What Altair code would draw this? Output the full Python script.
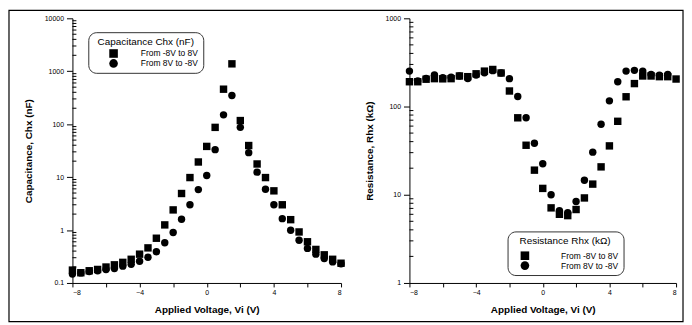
import altair as alt
import pandas as pd

FONT = "Liberation Sans"

voltage = [-8, -7.5, -7, -6.5, -6, -5.5, -5, -4.5, -4, -3.5, -3, -2.5, -2, -1.5, -1, -0.5,
           0, 0.5, 1, 1.5, 2, 2.5, 3, 3.5, 4, 4.5, 5, 5.5, 6, 6.5, 7, 7.5, 8]

series = ["From -8V to 8V", "From 8V to -8V"]

cap_up = [0.175, 0.156, 0.17, 0.18, 0.20, 0.22, 0.245, 0.28, 0.35, 0.46, 0.70, 1.25, 2.4, 4.9, 9.8, 19.3,
          38, 87, 458, 1380, 117, 39.5, 17.7, 9.8, 5.5, 3.0, 1.57, 0.92, 0.60, 0.43, 0.34, 0.28, 0.236]
cap_down = [0.147, 0.155, 0.165, 0.17, 0.18, 0.188, 0.208, 0.226, 0.258, 0.306, 0.39, 0.575, 0.9, 1.6, 3.0, 5.8,
            10.7, 33, 150, 349, 87, 29, 12.4, 5.9, 3.0, 1.64, 0.99, 0.64, 0.45, 0.35, 0.29, 0.25, 0.23]

res_up = [191, 191, 204, 207, 206, 207, 222, 218, 235, 252, 263, 240, 150, 74.5, 36.4, 19,
          11.8, 7.1, 6.0, 5.8, 6.8, 9.2, 13.2, 20.7, 35.8, 68, 129, 182, 222, 222, 218, 218, 205]
res_down = [252, 195, 208, 228, 212, 215, 222, 208, 228, 242, 255, 240, 207, 130, 74.5, 38.4,
            22.5, 10, 6.6, 6.25, 8.4, 14.6, 30.4, 63, 116, 191, 252, 257, 252, 231, 226, 231, None]

x_ticks = [-8, -6, -4, -2, 0, 2, 4, 6, 8]
cap_major = [0.1, 1, 10, 100, 1000, 10000]
res_major = [1, 10, 100, 1000]
mult = [2, 3, 4, 5, 6, 7, 8, 9]


def long_df(up, down):
    rows = []
    for v, a in zip(voltage, up):
        if a is not None:
            rows.append({"V": v, "val": a, "series": series[0]})
    for v, b in zip(voltage, down):
        if b is not None:
            rows.append({"V": v, "val": b, "series": series[1]})
    return pd.DataFrame(rows)


def minor_df(majors):
    vals = [m * k for m in majors[:-1] for k in mult]
    return pd.DataFrame({"val": vals})


def panel(df, majors, ytitle, legend_title, lx, ly, sym_off, lab_off, title_pad, w, h, frame=False):
    domain = [majors[0], majors[-1]]
    yscale = alt.Scale(type="log", domain=domain, nice=False)
    yaxis = alt.Axis(values=majors, format="~g", title=ytitle, grid=False, tickSize=6,
                     labelPadding=3, titlePadding=11)
    pts = alt.Chart(df).mark_point(filled=True, opacity=1, color="black", size=56, strokeWidth=0).encode(
        x=alt.X("V:Q", scale=alt.Scale(domain=[-8, 8], nice=False, zero=False),
                axis=alt.Axis(values=x_ticks, labelExpr="datum.value % 4 == 0 ? datum.label : ''",
                              title="Applied Voltage, Vi (V)", grid=False, tickSize=4,
                              labelPadding=2, titlePadding=9)),
        y=alt.Y("val:Q", scale=yscale, axis=yaxis),
        shape=alt.Shape("series:N", scale=alt.Scale(domain=series, range=["square", "circle"]),
                        legend=alt.Legend(title=legend_title, orient="none", legendX=lx, legendY=ly,
                                          strokeColor="#333", cornerRadius=8, padding=5,
                                          titleFontSize=10, titleFontWeight="normal", titleFont=FONT,
                                          titleAnchor="middle",
                                          labelFontSize=8.5, labelFont=FONT, symbolSize=75,
                                          symbolOffset=sym_off, labelOffset=lab_off, rowPadding=1,
                                          titlePadding=title_pad, symbolFillColor="black",
                                          symbolStrokeColor="black", symbolStrokeWidth=0)),
    )
    minor = alt.Chart(minor_df(majors)).mark_rule(color="black", strokeWidth=1).encode(
        y=alt.Y("val:Q", scale=yscale, axis=yaxis),
        x=alt.value(0), x2=alt.value(4),
    )
    layers = [pts, minor]
    if frame:
        box = alt.Chart(pd.DataFrame({"a": [0]})).mark_rect(
            fillOpacity=0, stroke="black", strokeWidth=1.2).encode(
            x=alt.value(-64), x2=alt.value(616), y=alt.value(-8), y2=alt.value(306))
        layers.append(box)
    return alt.layer(*layers).properties(width=w, height=h)


left = panel(long_df(cap_up, cap_down), cap_major, "Capacitance, Chx (nF)",
             "Capacitance Chx (nF)", 16, 14, 16, 23, 2, 271, 267, frame=True)
right = panel(long_df(res_up, res_down), res_major, "Resistance, Rhx (kΩ)",
              "Resistance Rhx (kΩ)", 99, 215, 8, 32, 5, 269, 267)

chart = alt.hconcat(left, right, spacing=69, bounds="flush").resolve_scale(
    shape="independent"
).resolve_legend(shape="independent").properties(
    padding=0, background="white"
).configure_view(stroke=None).configure_axis(
    domainColor="black", tickColor="black", labelColor="black", titleColor="black",
    labelFont=FONT, titleFont=FONT, labelFontSize=7, titleFontSize=10, titleFontWeight="bold",
    domainWidth=1, tickWidth=1,
).configure_legend(labelColor="black", titleColor="black")

chart.save("out.html", embed_options={"renderer": "svg", "actions": False})
